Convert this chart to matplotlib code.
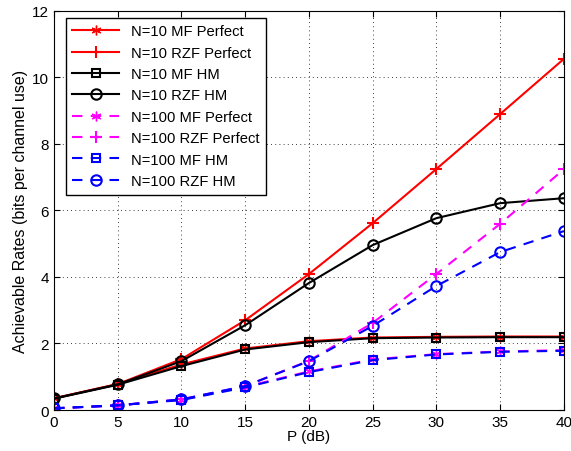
import matplotlib.pyplot as plt
import numpy as np

plt.rcParams['font.family'] = 'Liberation Sans'
plt.rcParams['xtick.direction'] = 'in'
plt.rcParams['ytick.direction'] = 'in'

P = [0, 5, 10, 15, 20, 25, 30, 35, 40]

n10_mf_perfect = [0.35, 0.78, 1.37, 1.85, 2.07, 2.18, 2.2, 2.21, 2.21]
n10_rzf_perfect = [0.35, 0.78, 1.53, 2.7, 4.09, 5.62, 7.25, 8.9, 10.56]
n10_mf_hm = [0.34, 0.76, 1.32, 1.82, 2.04, 2.16, 2.18, 2.19, 2.19]
n10_rzf_hm = [0.35, 0.77, 1.47, 2.55, 3.82, 4.96, 5.77, 6.22, 6.37]
n100_mf_perfect = [0.05, 0.14, 0.31, 0.7, 1.16, 1.52, 1.68, 1.76, 1.8]
n100_rzf_perfect = [0.05, 0.14, 0.32, 0.72, 1.48, 2.62, 4.09, 5.6, 7.24]
n100_mf_hm = [0.05, 0.14, 0.3, 0.68, 1.14, 1.5, 1.67, 1.75, 1.78]
n100_rzf_hm = [0.05, 0.14, 0.32, 0.72, 1.47, 2.53, 3.73, 4.75, 5.38]

fig = plt.figure(figsize=(5.71, 4.52), dpi=100)
ax = fig.add_axes([0.0946, 0.0907, 0.893, 0.8828])

star = (6, 2, 0)
ax.plot(P, n10_mf_perfect, '-', color='red', marker=star, ms=7, lw=1.5, label='N=10 MF Perfect')
ax.plot(P, n10_rzf_perfect, '-', color='red', marker='+', ms=9, mew=1.5, lw=1.5, label='N=10 RZF Perfect')
ax.plot(P, n10_mf_hm, '-', color='black', marker='s', ms=6, mfc='none', mew=1.5, lw=1.5, label='N=10 MF HM')
ax.plot(P, n10_rzf_hm, '-', color='black', marker='o', ms=7.5, mfc='none', mew=1.5, lw=1.5, label='N=10 RZF HM')
ax.plot(P, n100_mf_perfect, '--', color='magenta', marker=star, ms=7, lw=1.5, dashes=(5, 4), label='N=100 MF Perfect')
ax.plot(P, n100_rzf_perfect, '--', color='magenta', marker='+', ms=9, mew=1.5, lw=1.5, dashes=(5, 4), label='N=100 RZF Perfect')
ax.plot(P, n100_mf_hm, '--', color='blue', marker='s', ms=6, mfc='none', mew=1.5, lw=1.5, dashes=(5, 4), label='N=100 MF HM')
ax.plot(P, n100_rzf_hm, '--', color='blue', marker='o', ms=7.5, mfc='none', mew=1.5, lw=1.5, dashes=(5, 4), label='N=100 RZF HM')

ax.set_xlim(0, 40)
ax.set_ylim(0, 12)
ax.set_xticks(np.arange(0, 41, 5))
ax.set_yticks(np.arange(0, 13, 2))
ax.tick_params(labelsize=11, top=True, right=True, length=4)
ax.grid(True, linestyle=(0, (1, 4)), color='black', lw=0.6)
ax.set_xlabel('P (dB)', fontsize=11, labelpad=0)
ax.set_ylabel('Achievable Rates (bits per channel use)', fontsize=11.5, labelpad=3)

leg = ax.legend(loc='upper left', fontsize=10.6, fancybox=False, edgecolor='black',
                framealpha=1, handlelength=3.2, labelspacing=0.5, borderpad=0.45,
                borderaxespad=0, bbox_to_anchor=(0.023, 0.983))
leg.get_frame().set_linewidth(1)

plt.savefig('out.png', dpi=100)
